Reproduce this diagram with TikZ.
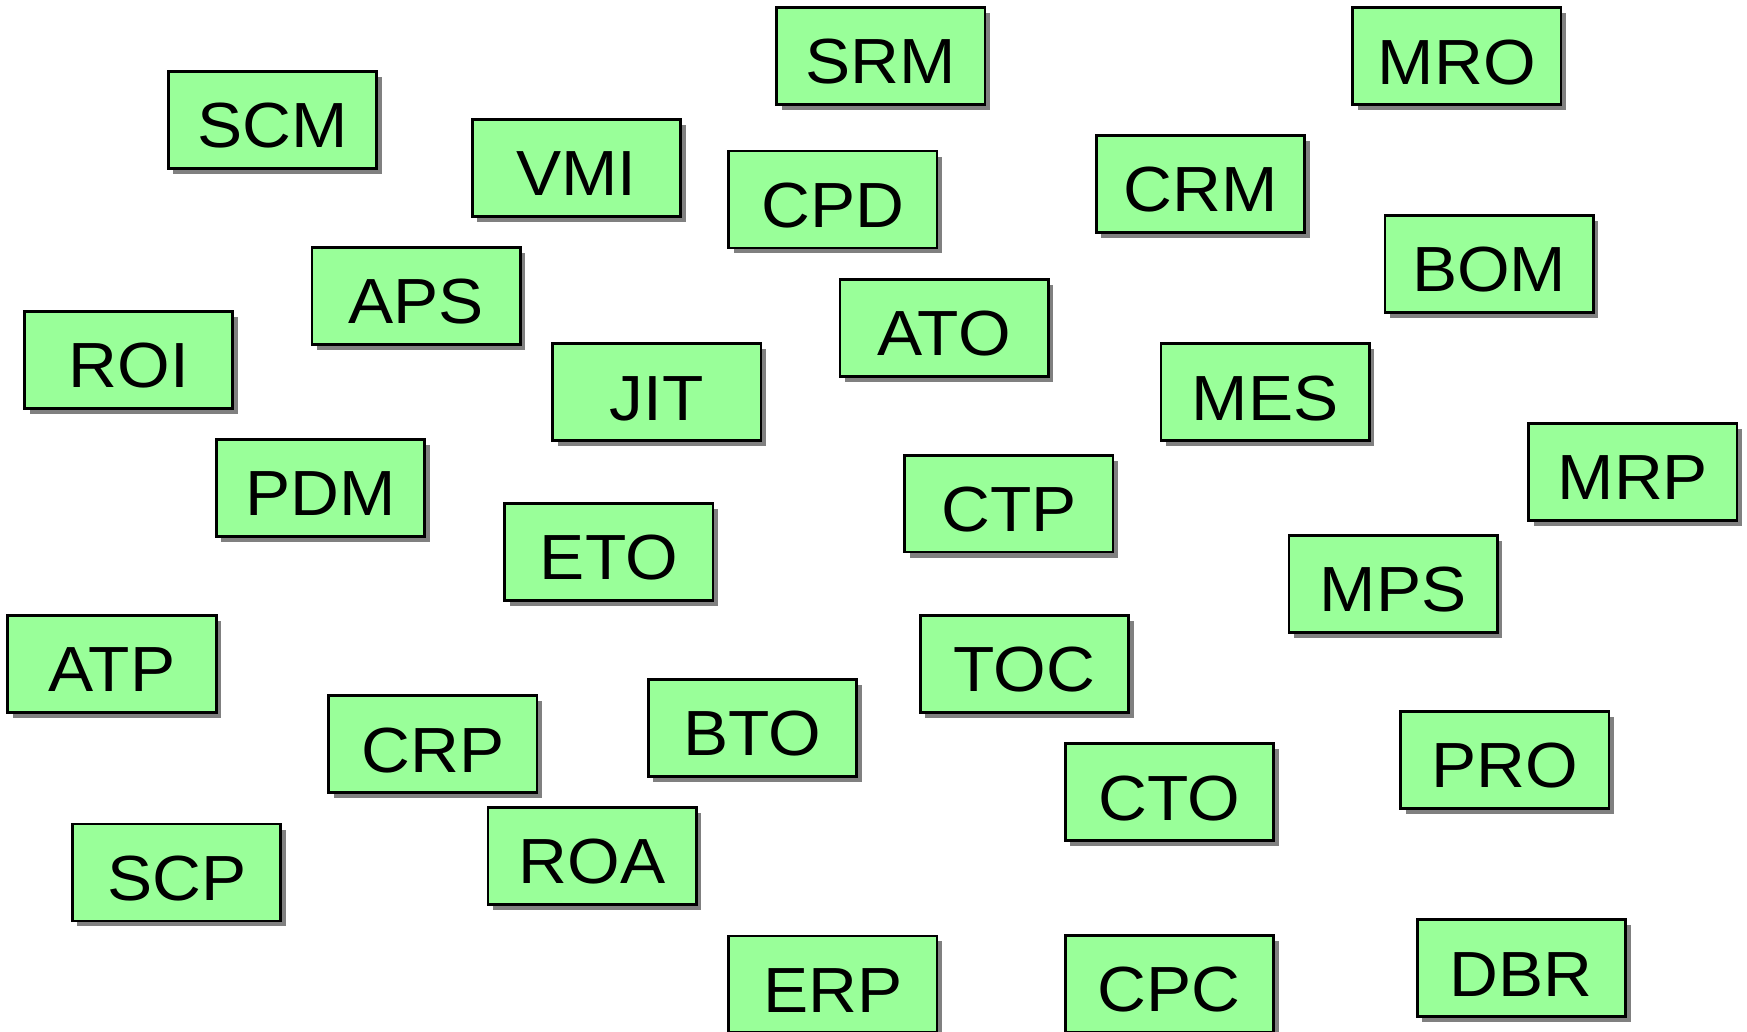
\documentclass[tikz,border=0pt]{standalone}
\usepackage{fontspec}
\setmainfont[FakeStretch=1.06]{Liberation Sans}
\usetikzlibrary{shadows}
\begin{document}
\begin{tikzpicture}[
  term/.style = {draw = black, line width = 0.7pt, fill = termcol, minimum width = 1.87cm, minimum height = 0.87cm,
    inner sep = 0pt, text height = 0.5cm, text depth = 0pt, font = \fontsize{16.3}{18}\selectfont,
    drop shadow = {shadow xshift = 0.045cm, shadow yshift = -0.05cm, fill = gray, opacity = 1}}]
\definecolor{termcol}{HTML}{99FF99}
\useasboundingbox (0, 0) rectangle (15.68, -9.26);
\node[term] (scm) at (2.445, -1.075) {SCM};
\node[term] (srm) at (7.905, -0.50) {SRM};
\node[term] (mro) at (13.075, -0.505) {MRO};
\node[term] (vmi) at (5.175, -1.505) {VMI};
\node[term] (cpd) at (7.475, -1.79) {CPD};
\node[term] (crm) at (10.775, -1.65) {CRM};
\node[term] (bom) at (13.365, -2.37) {BOM};
\node[term] (aps) at (3.735, -2.655) {APS};
\node[term] (roi) at (1.155, -3.23) {ROI};
\node[term] (ato) at (8.475, -2.945) {ATO};
\node[term] (jit) at (5.895, -3.52) {JIT};
\node[term] (mes) at (11.355, -3.52) {MES};
\node[term] (mrp) at (14.655, -4.235) {MRP};
\node[term] (pdm) at (2.875, -4.38) {PDM};
\node[term] (ctp) at (9.055, -4.52) {CTP};
\node[term] (eto) at (5.465, -4.955) {ETO};
\node[term] (mps) at (12.505, -5.24) {MPS};
\node[term] (atp) at (1.005, -5.96) {ATP};
\node[term] (toc) at (9.195, -5.96) {TOC};
\node[term] (crp) at (3.885, -6.68) {CRP};
\node[term] (bto) at (6.755, -6.535) {BTO};
\node[term] (pro) at (13.505, -6.82) {PRO};
\node[term] (cto) at (10.495, -7.11) {CTO};
\node[term] (scp) at (1.585, -7.83) {SCP};
\node[term] (roa) at (5.315, -7.68) {ROA};
\node[term] (dbr) at (13.655, -8.69) {DBR};
\node[term] (erp) at (7.475, -8.835) {ERP};
\node[term] (cpc) at (10.495, -8.83) {CPC};
\end{tikzpicture}
\end{document}
